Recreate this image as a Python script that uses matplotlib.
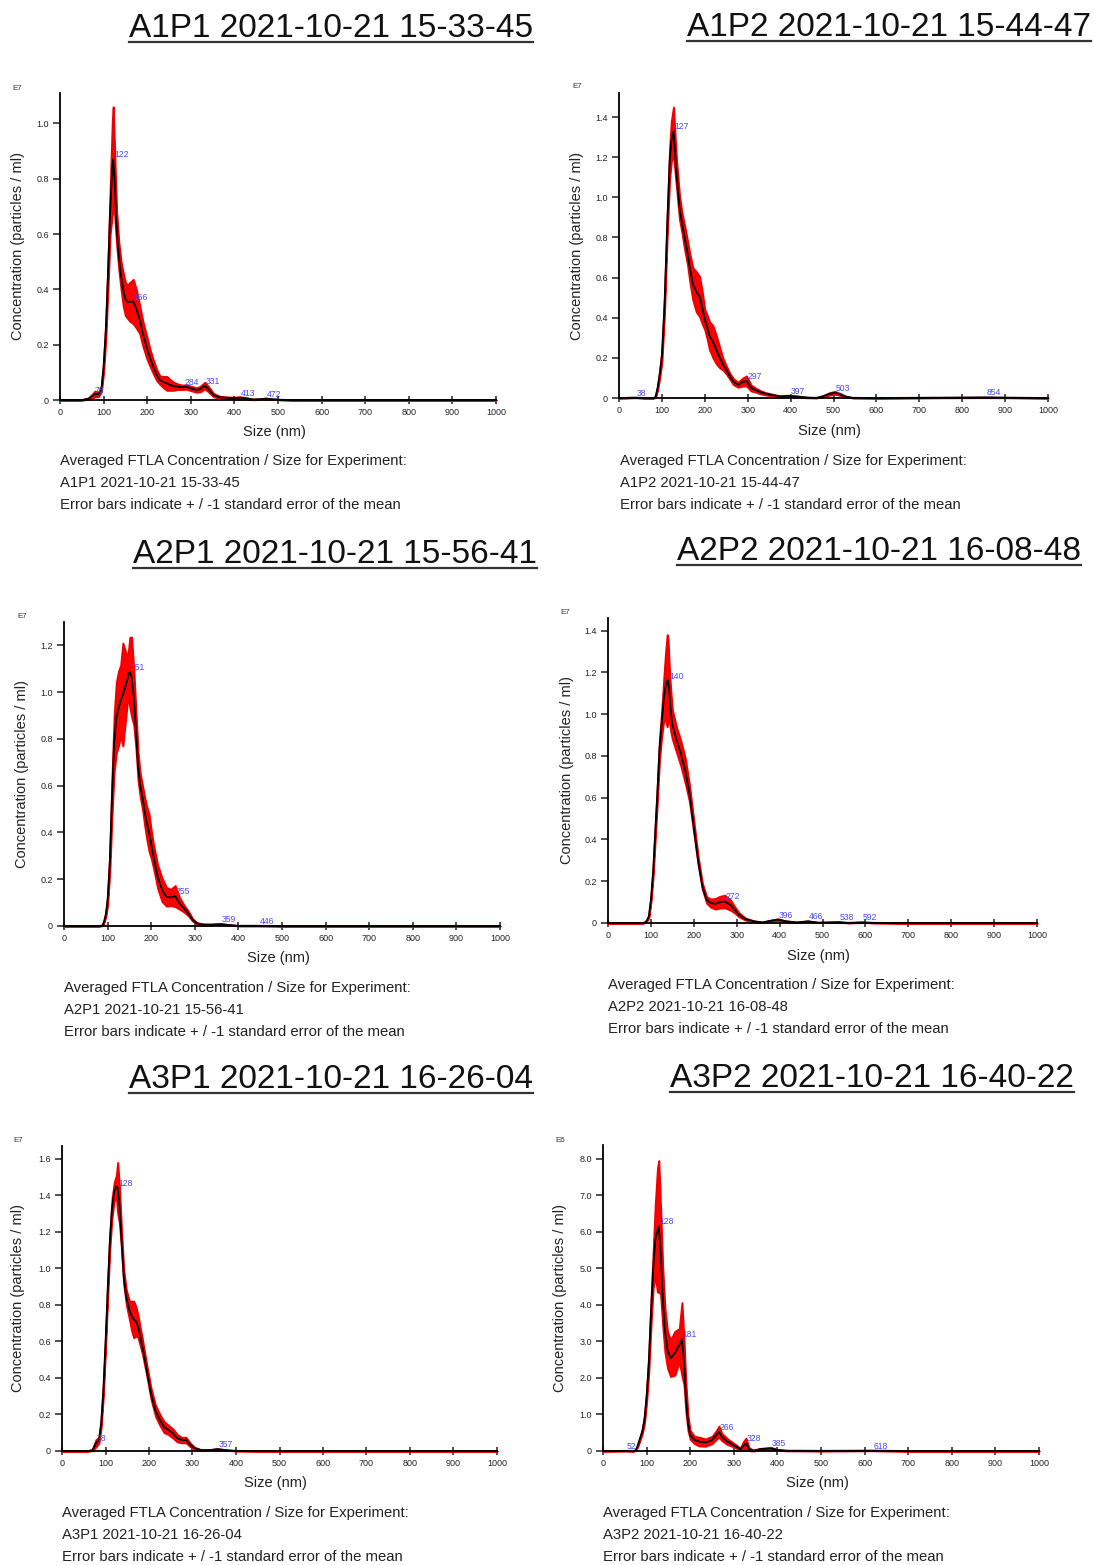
import numpy as np
import matplotlib
matplotlib.use('Agg')
import matplotlib.pyplot as plt
from matplotlib.lines import Line2D
from matplotlib.ticker import FuncFormatter, MultipleLocator

plt.rcParams['font.family'] = ['Liberation Sans', 'DejaVu Sans']

# %%
# sample names
names = ['A1P1 2021-10-21 15-33-45', 'A1P2 2021-10-21 15-44-47',
         'A2P1 2021-10-21 15-56-41', 'A2P2 2021-10-21 16-08-48',
         'A3P1 2021-10-21 16-26-04', 'A3P2 2021-10-21 16-40-22']
exponents = ['E7', 'E7', 'E7', 'E7', 'E7', 'E6']

# size (nm), mean concentration and standard error
size_a1p1 = [0, 50, 65, 75, 80, 88, 95, 100, 105, 110, 115, 120, 122, 125, 130, 135, 140, 145, 150, 155,
             160, 168, 175, 183, 190, 199, 207, 214, 222, 229, 237, 245, 252, 260, 270, 280, 290, 300, 313, 322,
             332, 340, 352, 365, 382, 400, 413, 425, 443, 460, 472, 485, 505, 530, 1000]
conc_a1p1 = [0, 0, 0.005, 0.015, 0.022, 0.02, 0.04, 0.12, 0.25, 0.45, 0.68, 0.84, 0.87, 0.80, 0.62, 0.52, 0.45, 0.40, 0.365, 0.355,
             0.355, 0.356, 0.33, 0.29, 0.24, 0.19, 0.15, 0.12, 0.09, 0.072, 0.065, 0.06, 0.055, 0.05, 0.048, 0.046, 0.047, 0.042, 0.036, 0.04,
             0.052, 0.04, 0.018, 0.01, 0.008, 0.007, 0.008, 0.006, 0.002, 0.003, 0.005, 0.003, 0.001, 0, 0]
err_a1p1 = [0, 0, 0.002, 0.008, 0.01, 0.008, 0.01, 0.02, 0.03, 0.05, 0.08, 0.17, 0.19, 0.12, 0.06, 0.05, 0.05, 0.06, 0.06, 0.06,
            0.07, 0.08, 0.07, 0.05, 0.045, 0.04, 0.03, 0.025, 0.02, 0.015, 0.02, 0.025, 0.02, 0.015, 0.01, 0.008, 0.008, 0.008, 0.008, 0.01,
            0.012, 0.01, 0.006, 0.004, 0.003, 0.003, 0.004, 0.003, 0.001, 0.001, 0.002, 0.001, 0, 0, 0]
peaks_a1p1 = [78, 122, 166, 284, 331, 413, 472]

size_a1p2 = [0, 38, 60, 80, 85, 90, 95, 100, 106, 112, 118, 122, 127, 134, 141, 147, 153, 160, 165, 172,
             180, 188, 194, 200, 206, 211, 219, 227, 235, 242, 250, 258, 266, 277, 289, 297, 308, 318, 328, 340,
             351, 375, 397, 420, 440, 460, 475, 490, 503, 515, 530, 545, 600, 854, 1000]
conc_a1p2 = [0, 0.002, 0, 0, 0.005, 0.05, 0.12, 0.21, 0.46, 0.84, 1.17, 1.28, 1.33, 1.12, 0.95, 0.87, 0.80, 0.72, 0.65, 0.57,
             0.53, 0.505, 0.45, 0.39, 0.35, 0.31, 0.28, 0.24, 0.2, 0.17, 0.14, 0.11, 0.083, 0.066, 0.08, 0.085, 0.05, 0.04, 0.03, 0.022,
             0.017, 0.008, 0.01, 0.006, 0.002, 0.001, 0.008, 0.02, 0.026, 0.018, 0.006, 0.001, 0, 0.003, 0]
err_a1p2 = [0, 0, 0, 0, 0.002, 0.01, 0.02, 0.03, 0.04, 0.05, 0.08, 0.1, 0.12, 0.07, 0.06, 0.05, 0.06, 0.06, 0.07, 0.08,
            0.1, 0.1, 0.08, 0.05, 0.06, 0.07, 0.08, 0.07, 0.05, 0.03, 0.02, 0.015, 0.015, 0.012, 0.02, 0.025, 0.015, 0.01, 0.008, 0.006,
            0.005, 0.003, 0.004, 0.003, 0.001, 0, 0.003, 0.006, 0.007, 0.005, 0.002, 0, 0, 0.001, 0]
peaks_a1p2 = [38, 127, 297, 397, 503, 854]

size_a2p1 = [0, 80, 88, 92, 96, 100, 105, 110, 115, 120, 125, 130, 135, 140, 145, 148, 151, 155, 160, 165,
             170, 175, 180, 185, 190, 195, 200, 205, 215, 225, 235, 245, 255, 265, 275, 285, 295, 305, 320, 340,
             359, 380, 400, 446, 500, 1000]
conc_a2p1 = [0, 0, 0.002, 0.02, 0.05, 0.11, 0.27, 0.55, 0.78, 0.89, 0.93, 0.965, 0.99, 1.02, 1.05, 1.08, 1.085, 1.065, 0.98, 0.84,
             0.68, 0.6, 0.55, 0.49, 0.44, 0.40, 0.35, 0.30, 0.21, 0.154, 0.125, 0.122, 0.128, 0.097, 0.075, 0.054, 0.026, 0.011, 0.006, 0.006,
             0.008, 0.004, 0.001, 0.001, 0, 0]
err_a2p1 = [0, 0, 0, 0.003, 0.008, 0.02, 0.04, 0.08, 0.12, 0.15, 0.16, 0.15, 0.22, 0.16, 0.1, 0.1, 0.15, 0.17, 0.12, 0.08,
            0.06, 0.05, 0.05, 0.06, 0.07, 0.08, 0.06, 0.05, 0.05, 0.05, 0.04, 0.035, 0.045, 0.025, 0.015, 0.01, 0.005, 0.003, 0.002, 0.002,
            0.002, 0.001, 0, 0, 0, 0]
peaks_a2p1 = [151, 255, 359, 446]

size_a2p2 = [0, 80, 85, 90, 95, 100, 105, 110, 115, 120, 125, 130, 134, 138, 140, 143, 146, 150, 160, 170,
             180, 190, 200, 210, 220, 230, 240, 250, 260, 272, 285, 295, 305, 320, 340, 360, 380, 396, 415, 440,
             466, 490, 515, 538, 560, 592, 620, 680, 1000]
conc_a2p2 = [0, 0, 0.002, 0.01, 0.03, 0.11, 0.24, 0.43, 0.62, 0.83, 0.95, 1.07, 1.13, 1.16, 1.16, 1.10, 1.02, 0.95, 0.875, 0.81,
             0.73, 0.62, 0.46, 0.30, 0.175, 0.11, 0.095, 0.092, 0.099, 0.103, 0.087, 0.064, 0.04, 0.019, 0.008, 0.003, 0.011, 0.016, 0.008, 0.003,
             0.008, 0.002, 0.003, 0.004, 0.001, 0.003, 0.001, 0, 0]
err_a2p2 = [0, 0, 0, 0.002, 0.005, 0.01, 0.02, 0.03, 0.04, 0.05, 0.06, 0.1, 0.16, 0.22, 0.2, 0.12, 0.1, 0.07, 0.06, 0.06,
            0.06, 0.04, 0.03, 0.02, 0.015, 0.015, 0.02, 0.025, 0.028, 0.03, 0.025, 0.015, 0.01, 0.005, 0.002, 0.001, 0.003, 0.004, 0.002, 0.001,
            0.002, 0, 0.001, 0.001, 0, 0.001, 0, 0, 0]
peaks_a2p2 = [140, 272, 396, 466, 538, 592]

size_a3p1 = [0, 60, 70, 78, 85, 90, 95, 100, 105, 110, 115, 120, 125, 128, 132, 137, 142, 148, 155, 160,
             165, 170, 175, 185, 195, 205, 215, 225, 235, 245, 255, 265, 275, 285, 295, 305, 320, 340, 357, 380,
             400, 450, 1000]
conc_a3p1 = [0, 0, 0.005, 0.042, 0.06, 0.15, 0.33, 0.59, 0.88, 1.15, 1.33, 1.42, 1.45, 1.44, 1.35, 1.15, 0.95, 0.84, 0.77, 0.74,
             0.72, 0.71, 0.68, 0.57, 0.44, 0.31, 0.22, 0.17, 0.13, 0.115, 0.096, 0.07, 0.06, 0.06, 0.033, 0.015, 0.005, 0.005, 0.01, 0.004,
             0.001, 0, 0]
err_a3p1 = [0, 0, 0.003, 0.02, 0.015, 0.02, 0.03, 0.03, 0.04, 0.04, 0.05, 0.05, 0.06, 0.14, 0.1, 0.05, 0.04, 0.04, 0.05, 0.08,
            0.1, 0.08, 0.06, 0.04, 0.03, 0.03, 0.03, 0.03, 0.03, 0.025, 0.025, 0.02, 0.015, 0.015, 0.01, 0.005, 0.002, 0.002, 0.003, 0.001,
            0, 0, 0]
peaks_a3p1 = [78, 128, 357]

size_a3p2 = [0, 52, 70, 75, 80, 90, 95, 100, 105, 110, 115, 120, 125, 128, 132, 137, 142, 148, 155, 165,
             175, 181, 186, 190, 195, 200, 210, 220, 235, 250, 260, 266, 272, 285, 300, 315, 322, 328, 335, 345,
             360, 385, 400, 420, 500, 618, 700, 1000]
conc_a3p2 = [0, 0.005, 0, 0.02, 0.16, 0.53, 0.85, 1.49, 2.4, 3.77, 4.96, 5.78, 6.05, 6.15, 5.5, 4.23, 3.31, 2.77, 2.54, 2.68,
             2.9, 3.06, 2.4, 1.49, 0.76, 0.44, 0.30, 0.26, 0.23, 0.30, 0.44, 0.53, 0.39, 0.26, 0.16, 0.05, 0.14, 0.21, 0.05, 0.01,
             0.05, 0.07, 0.03, 0.01, 0.005, 0.01, 0, 0]
err_a3p2 = [0, 0, 0, 0.01, 0.03, 0.06, 0.1, 0.15, 0.25, 0.35, 0.5, 1.0, 1.7, 1.8, 1.2, 0.8, 0.6, 0.5, 0.5, 0.6,
            0.45, 1.0, 0.6, 0.4, 0.2, 0.12, 0.1, 0.12, 0.1, 0.1, 0.12, 0.15, 0.1, 0.08, 0.05, 0.03, 0.12, 0.14, 0.04, 0.01,
            0.02, 0.03, 0.01, 0.005, 0, 0.003, 0, 0]
peaks_a3p2 = [52, 128, 181, 266, 328, 385, 618]

y_ticks_max = [1.0, 1.4, 1.2, 1.4, 1.6, 8.0]
y_tick_step = [0.2, 0.2, 0.2, 0.2, 0.2, 1.0]

caption_head = 'Averaged FTLA Concentration / Size for Experiment:'
caption_tail = 'Error bars indicate + / -1 standard error of the mean'

# %%
# page layout in pixels: axes left, right, top, zero-line, ymax, title centre x / baseline,
# ylabel x, exponent label, xlabel y, caption x / first line y
layout = [
    dict(x0=60, x1=496, top=93, bot=400, ymax=1.11, tx=331, ty=37, ylx=18, ex=(17, 89), xly=432, cx=60, cy=461),
    dict(x0=619, x1=1048, top=93, bot=398, ymax=1.52, tx=889, ty=36, ylx=577, ex=(577, 87), xly=431, cx=620, cy=461),
    dict(x0=64, x1=500, top=622, bot=926, ymax=1.30, tx=335, ty=563, ylx=22, ex=(22, 616), xly=958, cx=64, cy=988),
    dict(x0=608, x1=1037, top=618, bot=923, ymax=1.46, tx=879, ty=560, ylx=567, ex=(565, 613), xly=956, cx=608, cy=985),
    dict(x0=62, x1=497, top=1146, bot=1451, ymax=1.67, tx=331, ty=1088, ylx=18, ex=(18, 1141), xly=1483, cx=62, cy=1513),
    dict(x0=603, x1=1039, top=1145, bot=1451, ymax=8.38, tx=872, ty=1087, ylx=560, ex=(560, 1140), xly=1483, cx=603, cy=1513),
]

series = [(size_a1p1, conc_a1p1, err_a1p1, peaks_a1p1),
          (size_a1p2, conc_a1p2, err_a1p2, peaks_a1p2),
          (size_a2p1, conc_a2p1, err_a2p1, peaks_a2p1),
          (size_a2p2, conc_a2p2, err_a2p2, peaks_a2p2),
          (size_a3p1, conc_a3p1, err_a3p1, peaks_a3p1),
          (size_a3p2, conc_a3p2, err_a3p2, peaks_a3p2)]

W, H = 1094, 1565
fig = plt.figure(figsize=(W / 100, H / 100), dpi=100)
fig.patch.set_facecolor('white')


def fx(px):
    return px / W


def fy(py):
    return 1 - py / H


def tick_fmt(v, pos):
    return '0' if abs(v) < 1e-9 else '%.1f' % v


titles = []
for i, (lay, (xs, ys, es, pks)) in enumerate(zip(layout, series)):
    xs = np.array(xs, float)
    ys = np.array(ys, float)
    es = np.array(es, float)
    ax = fig.add_axes([fx(lay['x0']), fy(lay['bot']), (lay['x1'] - lay['x0']) / W,
                       (lay['bot'] - lay['top']) / H])
    ax.fill_between(xs, np.maximum(ys - es, 0), ys + es, facecolor='#ff0000',
                    edgecolor='#ee0000', lw=1.4, clip_on=False, zorder=2)
    ax.plot(xs, ys, color='black', lw=1.3, clip_on=False, zorder=3)

    ax.set_xlim(0, 1000)
    ax.set_ylim(0, lay['ymax'])
    for s in ['top', 'right']:
        ax.spines[s].set_visible(False)
    for s in ['left', 'bottom']:
        ax.spines[s].set_linewidth(1.3)
    ax.xaxis.set_major_locator(MultipleLocator(100))
    ax.set_yticks(np.arange(0, y_ticks_max[i] + 1e-6, y_tick_step[i]))
    ax.yaxis.set_major_formatter(FuncFormatter(tick_fmt))
    ax.tick_params(axis='x', direction='inout', length=6, width=1.1, labelsize=6.5, pad=3, colors='#222222')
    ax.tick_params(axis='y', direction='out', length=5, width=1.1, labelsize=6.5, pad=3, colors='#222222')

    for p in pks:
        ax.text(p + 2, np.interp(p, xs, ys), str(p), color='#4848ff', fontsize=6.2,
                ha='left', va='bottom', zorder=4)

    fig.text(fx(lay['ylx']), fy((lay['top'] + lay['bot']) / 2), 'Concentration (particles / ml)',
             rotation=90, fontsize=10.5, ha='center', va='center', color='#222222')
    fig.text(fx((lay['x0'] + lay['x1']) / 2 - 4), fy(lay['xly']), 'Size (nm)',
             fontsize=10.5, ha='center', va='center', color='#222222')
    fig.text(fx(lay['ex'][0]), fy(lay['ex'][1]), exponents[i], fontsize=5.8,
             ha='center', va='center', color='#333333')

    cap = [caption_head, names[i], caption_tail]
    for k, line in enumerate(cap):
        fig.text(fx(lay['cx']), fy(lay['cy'] + 22 * k), line, fontsize=10.7,
                 ha='left', va='center', color='#222222')

    t = fig.text(fx(lay['tx']), fy(lay['ty']), names[i], fontsize=24,
                 ha='center', va='baseline', color='#111111')
    titles.append((t, lay['ty']))

# underline the titles
fig.canvas.draw()
r = fig.canvas.get_renderer()
for t, ty in titles:
    bb = t.get_window_extent(renderer=r)
    fig.add_artist(Line2D([bb.x0 / W, bb.x1 / W], [fy(ty + 5), fy(ty + 5)],
                          transform=fig.transFigure, color='#333333', lw=1.6))

fig.savefig('out.png', dpi=100, facecolor='white')
